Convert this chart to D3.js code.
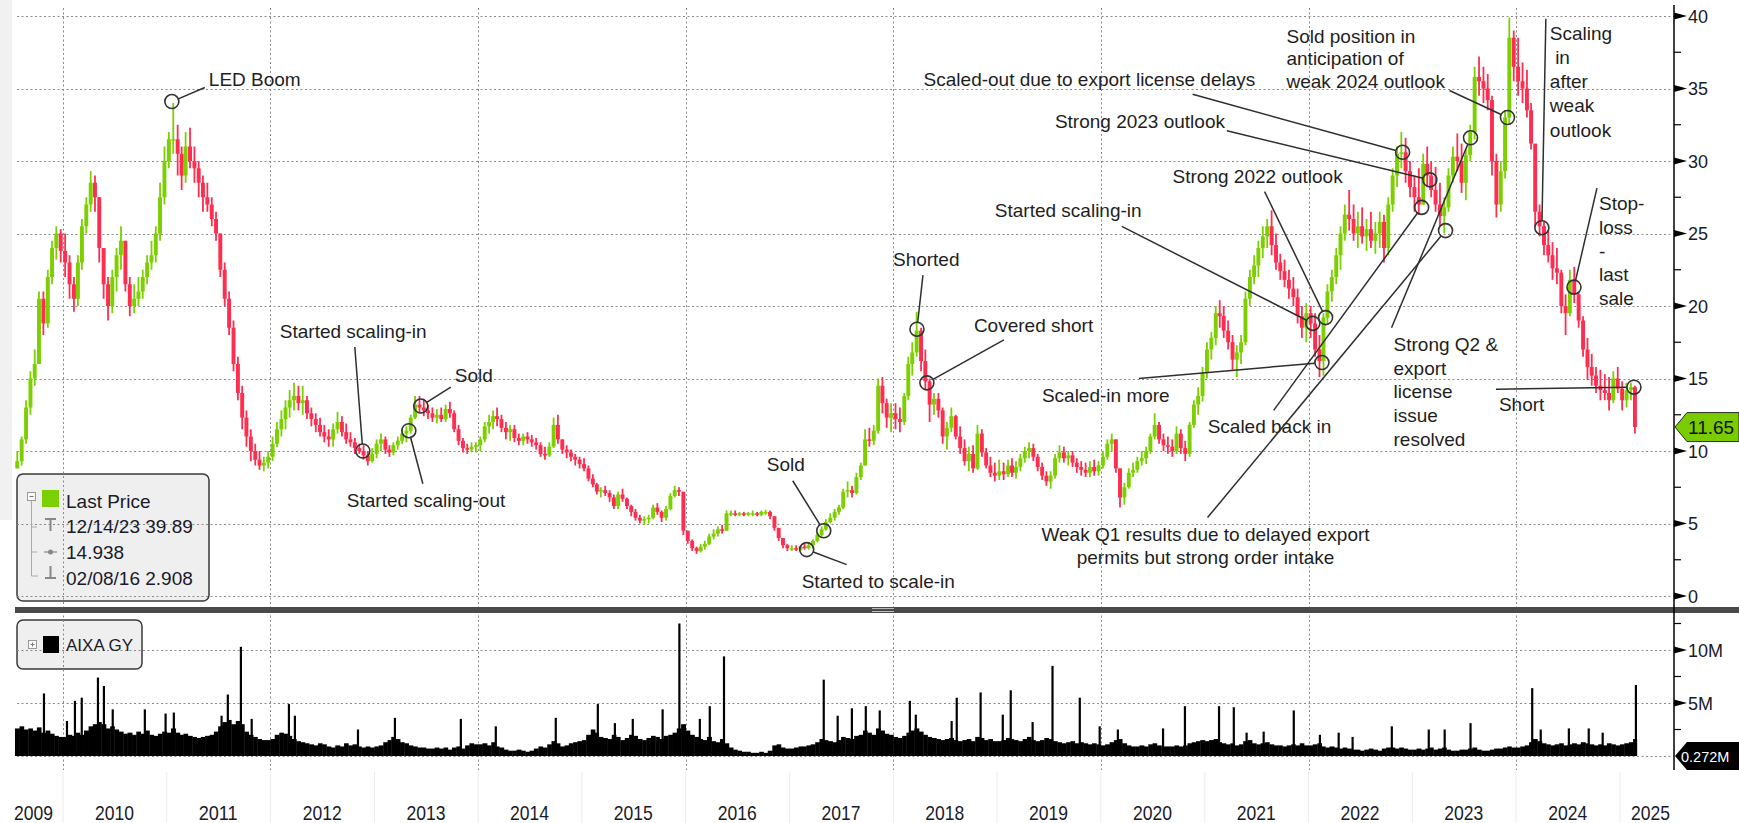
<!DOCTYPE html>
<html>
<head>
<meta charset="utf-8">
<script src="https://cdn.jsdelivr.net/npm/d3@7"></script>
<style>body{margin:0;background:#fff}svg{display:block}</style>
</head>
<body>
<script>
// half-month candles [high, low, close]; 2009 starts with 2nd half of July
const p2009 = [[10,8.8,9.3],[11,9,10.8],[13.5,10.5,13],[15.5,12.5,15],[17,14.5,16],[21,16,20.5],[21,18,18.8],[22.5,18.5,22],[24.5,21.5,24],[25.5,23.2,25],[25.3,23,23.8]];
const p2010 = [[25,22,23],[23.5,20.5,21.5],[22,19.6,20.5],[23.5,20,23],[26,22.5,25.5],[27.5,25,27],[29.3,26.5,28.5],[29,26.5,27.5],[27.5,23,24],[24,20.5,21.5],[22,19,20],[22.5,19.5,22],[24,21,23.5],[25.5,22.5,24.5],[24.5,21,21.5],[22,19.3,20],[21.5,19.5,20.5],[22,20,21],[22.5,20.5,22],[23.5,21.5,23],[24.5,22.5,23.5],[25.5,23,25],[28.5,24.5,27.5],[31,27,30]];
const p2011 = [[32,29.5,31.5],[34,30.5,31.5],[32.5,29,30.5],[31,28,29],[32,28.5,31],[32.3,29.5,30],[31,28.5,29.5],[30,27.5,28.5],[29,26.5,27.5],[28.5,26.5,27],[27.5,25.5,26],[26.5,24.5,25],[25,22,22.5],[23,20,20.5],[21,18,18.5],[19,15.5,16],[16.5,13.5,14],[14.5,11.5,12.3],[12.8,10.3,11],[11.5,9.3,10],[10.5,9,9.4],[10,8.7,9],[9.6,8.6,9.2],[10,8.8,9.6]];
const p2012 = [[11,9.3,10.5],[12,10.3,11.5],[12.8,11,12.2],[13.5,11.5,13],[14.2,12.3,13.5],[14.7,12.8,13.8],[14.5,12.8,13.3],[14.5,12.5,13.5],[13.8,12.2,12.6],[13,11.7,12.2],[12.6,11.3,11.8],[12.3,11,11.3],[11.8,10.6,11],[11.5,10.3,10.8],[11.9,10.3,11.5],[12.7,11.2,12],[12.4,11,11.3],[11.9,10.5,10.8],[11.3,10.3,10.6],[10.9,9.8,10.2],[10.5,9.8,10],[10.4,9.4,9.7],[10,9,9.3],[10.2,9.2,9.8]];
const p2013 = [[10.8,9.5,10.5],[11.2,10,10.8],[11,9.8,10.1],[10.4,9.6,9.9],[10.6,9.7,10.4],[11,10.1,10.7],[11.5,10.5,11.2],[11.7,10.6,11.4],[12.5,11.2,12.3],[13.8,12.2,13.2],[13.8,12.6,13],[13.6,12.4,12.8],[13.2,12.2,12.6],[13,12,12.3],[12.9,11.9,12.5],[13,12,12.2],[13.2,12,12.9],[13.4,12.3,12.6],[12.8,11.3,11.5],[11.8,10.4,10.7],[10.9,9.9,10.2],[10.5,9.8,10.1],[10.6,9.9,10.3],[10.6,9.9,10.4]];
const p2014 = [[11,10,10.8],[12,10.6,11.7],[12.5,11.2,12],[12.8,11.5,12.4],[13,11.7,12.2],[12.5,11.3,11.6],[12,10.8,11.3],[11.8,10.7,11.5],[11.8,10.6,10.9],[11.2,10.4,10.7],[11.2,10.4,11],[11.3,10.5,10.8],[11.1,10.3,10.6],[10.9,10.1,10.4],[10.6,9.6,9.8],[10.3,9.4,9.7],[10.6,9.6,10.3],[12.3,10.2,11.8],[12.5,10.5,10.8],[10.8,9.8,10.1],[10.4,9.5,9.9],[10.1,9.3,9.6],[9.8,9,9.4],[9.6,8.8,9.1]];
const p2015 = [[9.5,8.6,8.8],[9,7.9,8.1],[8.4,7.5,7.7],[7.8,7,7.2],[7.5,6.8,7.3],[7.6,6.9,7.1],[7.3,6.5,6.8],[7,6,6.2],[7.2,6,7],[7.4,6.5,6.7],[6.8,6,6.2],[6.3,5.5,5.8],[6,5.2,5.4],[5.6,5,5.2],[5.5,4.9,5.3],[5.6,5,5.4],[6.3,5.3,6.1],[6.4,5.6,5.8],[5.9,5.1,5.4],[6.2,5.2,6],[7.1,5.9,6.9],[7.6,6.8,7.3],[7.5,6.9,7.2],[4.9,4.2,4.5]];
const p2016 = [[4.5,3.6,3.8],[3.9,3.1,3.3],[3.4,2.908,3.1],[3.6,3,3.4],[3.8,3.2,3.6],[4.3,3.5,4.1],[4.6,3.9,4.3],[4.8,4.1,4.6],[4.9,4.3,4.5],[5.9,4.5,5.7],[5.9,5.5,5.7],[5.9,5.5,5.6],[5.8,5.5,5.7],[5.8,5.5,5.6],[5.8,5.5,5.7],[5.9,5.5,5.7],[5.8,5.5,5.6],[5.9,5.5,5.8],[5.95,5.6,5.8],[5.9,5.3,5.5],[5.5,4.5,4.7],[4.7,3.8,4],[4,3.3,3.5],[3.6,3.1,3.3]];
const p2017 = [[3.5,3.1,3.3],[3.5,3.1,3.2],[3.5,3.1,3.4],[3.6,3.2,3.3],[3.7,3.2,3.5],[3.9,3.3,3.8],[4.4,3.7,4.2],[4.8,4.1,4.6],[5.3,4.5,5.1],[5.7,5,5.4],[6,5.2,5.8],[6.3,5.6,6.1],[7.4,6,7.2],[7.9,6.8,7.3],[7.6,6.8,7.1],[8.5,7,8.2],[9.2,8,9],[11.5,9,10.8],[11.6,10.3,10.7],[11.8,10.4,11.4],[15,11.2,14.5],[15.1,12.6,13.3],[13.6,11.6,12.3],[13.3,11.3,12.6]];
const p2018 = [[13.3,11.5,12.2],[13,11.3,12],[14,11.8,13.8],[16.5,13.5,16],[17.5,15.2,16.8],[19.6,16.5,18.3],[18.5,15.5,16.2],[17,14.2,14.8],[15,12,13.2],[14,12.5,13.6],[14,12.3,12.8],[13,10.5,11],[12,10.1,11.6],[13,11.3,12.4],[12.5,10.8,11],[11.7,9.8,10.2],[10.8,9,9.3],[10.3,8.6,9.8],[10.4,8.5,8.8],[11.8,8.7,11.2],[11.5,9.6,9.9],[10.2,8.8,9],[9.6,8.2,8.5],[9.2,7.9,8.3]];
const p2019 = [[9.4,8,8.6],[9.2,8,8.4],[9.4,8.2,9],[9.5,8.2,8.5],[9.3,8.1,8.9],[9.8,8.6,9.5],[10.3,9.2,10],[10.6,9.5,10.2],[10.5,9.3,9.6],[9.8,8.6,8.9],[9.2,8,8.3],[8.6,7.6,7.9],[8.6,7.4,8.3],[9.8,8.1,9.5],[10.4,9.2,9.9],[10.3,9.2,9.5],[10,9,9.7],[10,8.9,9.2],[9.5,8.5,8.9],[9.3,8.3,8.7],[9.2,8.2,8.5],[9.3,8.2,8.9],[9.4,8.3,8.6],[9.3,8.3,9]];
const p2020 = [[10,8.8,9.6],[10.8,9.4,10.5],[11.2,10,10.8],[10.8,8.5,8.8],[8.8,6.1,6.8],[7.8,6.3,7.5],[8.8,7.4,8.5],[9.2,8.2,8.7],[9.6,8.5,9.3],[10,9,9.5],[10.3,9.1,10],[11.2,9.8,11],[12.6,10.8,11.8],[12,10.5,10.8],[11.2,10,10.4],[11,9.8,10.3],[10.8,9.6,10],[11.7,9.8,11.2],[11.5,9.8,10.2],[10.7,9.3,9.8],[12,9.6,11.8],[13.5,11.6,13.2],[14.4,12.5,13.8],[15.8,13.4,15.4]];
const p2021 = [[17.5,15,17],[18.2,16.3,17.8],[20,17.3,19.5],[20.4,18.5,19.3],[20,17.8,18.3],[19,17,17.5],[18,15.6,16.3],[17.3,15.1,16.8],[18,16,17.5],[21,17.3,20.5],[22.5,20,22],[23.5,21.5,22.8],[24.5,22,24],[25.5,23.3,24.8],[26,24,25.5],[26.6,23.5,24.2],[25,22.5,23],[23.6,21.8,22.4],[23.2,21.3,21.8],[22.5,20.5,21.2],[22,20,20.6],[21.2,18.8,19.3],[20,17.8,18.5],[20.2,17.5,19.5]];
const p2022 = [[20,17.8,18.8],[19.5,16.5,17],[18,15.1,16.2],[19.5,15.2,19.2],[21.5,18.8,21],[22.5,20.3,22],[24,21.5,23.5],[25.5,22.5,25],[27,24.5,26.3],[28,25.2,26],[27,24.5,25],[26.5,24,25.5],[26.8,24.3,24.8],[26,23.8,25.3],[26.5,24,24.5],[25.8,23.6,25],[26.5,24,25.8],[26.3,23,24],[27.5,23.5,27],[29.5,26.5,29],[31,28.2,30.5],[32,29.5,30.6],[31.6,28.5,29.3],[30,27.5,28.2]];
const p2023 = [[29,26.5,27.5],[29.5,26.3,27],[30.5,27,29.8],[31,28.2,29],[30,27.5,28],[29.6,26.5,27],[28.5,25.5,26.2],[27.5,25,26.8],[29.5,26.5,29],[31,28.5,30.3],[31.9,29.3,30],[31.2,27.8,28.5],[30.8,27.3,30.4],[32.5,30,32],[36.5,31.5,35.8],[37.2,34.5,35.5],[36.5,34,35],[36,33.5,34.2],[34.5,29,30],[30.5,26.1,27],[30,26.5,29.3],[33.5,28.8,33],[39.89,32.5,38.5],[39,35.5,36.5]];
const p2024 = [[38.5,34.5,35.5],[36.8,34,35],[36.3,33,33.5],[34,30.8,31.2],[28.9,25.5,26.5],[27,24.8,25.5],[25.8,23.5,24.2],[25.2,23,23.5],[24.4,21.8,22.6],[24,21.5,22.3],[22.5,19.5,20],[20.8,18,19.5],[22.5,19.3,21.8],[22.7,20.2,20.8],[21,18.5,19],[19.3,16.5,17],[17.8,14.9,15.8],[16.7,14.5,15.2],[15.8,14,14.5],[15.6,13.5,14.2],[15.3,13.5,14],[15.1,12.8,13.5],[15.5,13.3,15],[15.8,14,14.3]];
const p2025 = [[14.8,12.8,13.5],[14.7,13,14.2],[14.7,13.5,14.4],[14.5,11.2,11.65]];

// typical daily volume in each half-month, millions of shares
const v2009 = [2.6,2.8,2.5,2.6,2.4,2.7,2.2,2.4,2.1,1.9,1.8];
const v2010 = [1.8,2.0,1.9,2.2,2.0,2.4,2.8,3.0,3.2,3.0,2.6,2.8,2.5,2.3,2.1,2.2,2.0,2.3,2.1,2.4,2.0,1.9,2.1,2.3];
const v2011 = [2.2,2.6,2.2,2.0,2.1,1.9,1.8,1.7,1.8,1.9,2.0,2.3,2.8,3.2,3.4,3.0,3.3,3.0,2.3,2.0,1.8,1.6,1.5,1.5];
const v2012 = [1.6,2.0,2.2,2.1,1.9,1.6,1.4,1.3,1.2,1.1,1.0,1.2,1.1,0.9,0.8,1.0,0.9,1.2,1.0,1.1,0.9,0.8,0.9,0.8];
const v2013 = [0.9,1.0,1.3,1.5,1.8,1.6,1.3,1.2,1.0,0.9,0.8,0.8,0.7,0.7,0.8,0.7,0.8,0.6,0.8,0.9,0.7,1.0,1.2,1.1];
const v2014 = [1.1,1.2,1.0,1.3,0.9,0.8,0.6,0.5,0.5,0.6,0.5,0.4,0.5,0.7,0.9,0.8,1.1,1.4,1.2,0.9,1.0,1.2,1.3,1.4];
const v2015 = [1.5,2.0,2.5,2.2,1.8,1.7,1.6,2.0,1.8,1.5,1.7,2.0,1.9,1.6,1.5,1.7,1.9,1.8,1.6,1.9,2.0,2.2,2.6,3.0];
const v2016 = [2.4,2.0,1.8,1.6,1.5,1.8,1.4,1.3,1.6,1.2,0.8,0.6,0.5,0.4,0.4,0.3,0.3,0.4,0.3,0.5,1.0,1.1,0.8,0.7];
const v2017 = [0.7,0.8,0.9,0.9,1.0,1.1,1.3,1.6,1.5,1.4,1.3,1.5,1.8,1.7,1.6,1.9,2.0,2.4,2.2,2.0,2.6,2.4,2.1,2.0];
const v2018 = [1.8,1.7,1.9,2.2,2.4,2.6,2.3,2.0,1.8,1.7,1.6,1.5,1.6,1.7,1.5,1.4,1.5,1.6,1.4,1.8,1.7,1.5,1.6,1.4];
const v2019 = [1.4,1.5,1.7,1.6,1.5,1.4,1.6,1.8,1.5,1.4,1.5,1.7,1.6,1.4,1.3,1.2,1.3,1.4,1.2,1.3,1.2,1.1,1.2,1.1];
const v2020 = [1.0,1.1,1.3,1.5,1.6,1.2,1.0,0.9,0.9,1.0,0.9,1.1,1.2,1.0,0.9,0.9,0.9,1.0,0.9,1.0,1.2,1.3,1.4,1.5];
const v2021 = [1.4,1.5,1.6,1.3,1.2,1.1,1.2,1.0,1.1,1.4,1.5,1.2,1.1,1.2,1.3,1.1,1.0,1.0,0.9,1.0,1.1,1.0,1.2,1.0];
const v2022 = [1.0,1.1,1.2,0.9,0.8,0.9,0.8,0.7,0.8,0.7,0.6,0.6,0.5,0.6,0.7,0.6,0.5,0.7,0.8,0.8,0.7,0.8,0.7,0.6];
const v2023 = [0.6,0.7,0.6,0.7,0.8,0.6,0.7,0.8,0.6,0.5,0.5,0.6,0.6,0.7,0.8,0.6,0.5,0.5,0.6,0.7,0.7,0.8,0.9,0.8];
const v2024 = [0.8,0.9,1.0,1.3,1.6,1.4,1.2,1.1,1.0,1.1,1.2,1.0,1.1,1.2,1.1,1.3,1.2,1.1,1.0,1.1,1.0,1.2,1.1,1.0];
const v2025 = [1.1,1.2,1.3,1.6];

// single-day volume spikes [date, millions]
const volSpikes = [
  ["2009-10-26",5.9],["2010-01-15",3.3],["2010-02-12",5.2],["2010-03-08",5.5],["2010-05-04",7.4],["2010-05-25",6.6],
  ["2010-06-25",4.4],["2010-10-16",4.4],["2010-12-28",4.0],["2011-01-26",4.1],["2011-07-13",3.8],["2011-08-04",5.8],
  ["2011-09-19",10.3],["2011-10-27",3.5],["2012-03-06",4.9],["2012-03-27",3.8],["2012-11-04",2.5],["2013-03-14",3.6],
  ["2013-11-01",3.5],["2014-03-04",2.8],["2014-10-01",3.6],["2015-02-26",4.9],["2015-04-27",3.1],["2015-06-29",3.5],
  ["2015-10-12",4.4],["2015-12-10",12.5],["2016-02-20",3.5],["2016-03-26",4.7],["2016-05-15",9.4],["2017-05-01",7.2],
  ["2017-06-19",3.8],["2017-08-08",4.5],["2017-09-26",4.7],["2017-11-14",4.3],["2018-02-28",5.2],["2018-03-21",3.9],
  ["2018-07-25",3.3],["2018-08-12",5.5],["2018-11-04",6.0],["2019-01-21",3.9],["2019-02-18",6.2],["2019-05-06",3.2],
  ["2019-07-15",8.5],["2019-10-19",5.5],["2019-12-28",2.8],["2020-03-01",2.5],["2020-08-07",2.6],["2020-10-23",4.7],
  ["2021-02-20",4.7],["2021-04-13",4.6],["2021-05-28",2.2],["2021-07-27",2.3],["2021-11-10",4.3],["2022-02-10",2.0],
  ["2022-04-17",2.2],["2022-06-05",1.8],["2022-10-21",2.8],["2023-02-28",2.5],["2023-04-25",2.5],["2023-07-25",3.1],
  ["2024-02-27",6.4],["2024-03-28",2.5],["2024-07-05",2.6],["2024-09-13",2.6],["2024-11-01",2.2],["2025-02-26",6.7]
];

const priceTicks = [0, 5, 10, 15, 20, 25, 30, 35, 40];
const volTicks = [5, 10];
const volTickLabels = ["5M", "10M"];
const yearLabels = d3.range(2009, 2026);
const legendRows = ["12/14/23 39.89", "14.938", "02/08/16 2.908"];

const notes = [
  {lines: ["LED Boom"], date: "2011-01-19", price: 34.1},
  {lines: ["Started scaling-in"], date: "2012-11-21", price: 10.0},
  {lines: ["Sold"], date: "2013-06-13", price: 13.1},
  {lines: ["Started scaling-out"], date: "2013-05-02", price: 11.4},
  {lines: ["Sold"], date: "2017-05-01", price: 4.5},
  {lines: ["Started to scale-in"], date: "2017-03-02", price: 3.2},
  {lines: ["Shorted"], date: "2018-03-25", price: 18.4},
  {lines: ["Covered short"], date: "2018-04-29", price: 14.7},
  {lines: ["Scaled-in more"], date: "2022-02-17", price: 16.1},
  {lines: ["Started scaling-in"], date: "2022-01-16", price: 18.8},
  {lines: ["Strong 2022 outlook"], date: "2022-03-02", price: 19.2},
  {lines: ["Scaled back in"], date: "2023-02-03", price: 26.8},
  {lines: ["Weak Q1 results due to delayed export", "permits but strong order intake"], date: "2023-04-28", price: 25.2},
  {lines: ["Strong Q2 &", "export", "license", "issue", "resolved"], date: "2023-07-25", price: 31.6},
  {lines: ["Strong 2023 outlook"], date: "2023-03-04", price: 28.7},
  {lines: ["Scaled-out due to export license delays"], date: "2022-11-28", price: 30.6},
  {lines: ["Sold position in", "anticipation of", "weak 2024 outlook"], date: "2023-12-02", price: 33.0},
  {lines: ["Scaling", " in", "after", "weak", "outlook"], date: "2024-04-01", price: 25.4},
  {lines: ["Stop-", "loss", "-", "last", "sale"], date: "2024-07-23", price: 21.3},
  {lines: ["Short"], date: "2025-02-19", price: 14.4}
];
// label anchor (tx,ty) and leader end (lx,ly) in px from the circle
const noteLayout = [
  {tx: 37, ty: -16, lx: 33, ly: -14},
  {tx: -83, ty: -113, lx: -8, ly: -104},
  {tx: 34, ty: -24, lx: 30, ly: -19},
  {tx: -62, ty: 76, lx: 14, ly: 53},
  {tx: -57, ty: -60, lx: -31, ly: -50},
  {tx: -5, ty: 38, lx: 40, ly: 15},
  {tx: -24, ty: -63, lx: 6, ly: -54},
  {tx: 47, ty: -51, lx: 77, ly: -43},
  {tx: -280, ty: 39, lx: -183, ly: 16},
  {tx: -318, ty: -106, lx: -191, ly: -97},
  {tx: -153, ty: -135, lx: -61, ly: -126},
  {tx: -214, ty: 226, lx: -148, ly: 203},
  {tx: -240, ty: 310, lx: -238, ly: 287, anchor: "middle", lh: 23},
  {tx: -77, ty: 213, lx: -79, ly: 190},
  {tx: -375, ty: -52, lx: -203, ly: -49},
  {tx: -479, ty: -66, lx: -210, ly: -58},
  {tx: -221, ty: -75, lx: -58, ly: -27, lh: 22.5},
  {tx: 8, ty: -188, lx: 4, ly: -209, lh: 24.2},
  {tx: 25, ty: -77, lx: 23, ly: -99},
  {tx: -135, ty: 24, lx: -138, ly: 2}
];

const width = 1739, height = 823;
const axisX = 1674, plotL = 17;
const upColor = "#7ccf00", downColor = "#ff2d4f";
const font = "'Liberation Sans', Arial, sans-serif";

const priceYears = [[2009, p2009, v2009], [2010, p2010, v2010], [2011, p2011, v2011], [2012, p2012, v2012],
  [2013, p2013, v2013], [2014, p2014, v2014], [2015, p2015, v2015], [2016, p2016, v2016], [2017, p2017, v2017],
  [2018, p2018, v2018], [2019, p2019, v2019], [2020, p2020, v2020], [2021, p2021, v2021], [2022, p2022, v2022],
  [2023, p2023, v2023], [2024, p2024, v2024], [2025, p2025, v2025]];
const firstSlot = {2009: 13};

// turn the yearly lists into candles
const bars = [];
let prevClose = null;
priceYears.forEach(([yr, arr, vol]) => {
  const off = firstSlot[yr] || 0;
  arr.forEach((d, i) => {
    const k = i + off, m = Math.floor(k / 2);
    const t0 = new Date(yr, m, k % 2 ? 16 : 1);
    const t1 = k % 2 ? new Date(yr, m + 1, 1) : new Date(yr, m, 16);
    const open = prevClose == null ? d[1] : prevClose;
    bars.push({t0, t1, high: d[0], low: d[1], close: d[2], open, vol: vol[i] || 0});
    prevClose = d[2];
  });
});

const svg = d3.select("body").append("svg")
  .attr("width", width).attr("height", height)
  .style("font-family", font);

const x = d3.scaleTime().domain([new Date(2010, 0, 1), new Date(2024, 0, 1)]).range([63, 1516]);
const yP = d3.scaleLinear().domain([0, 40]).range([596, 16]);
const yV = d3.scaleLinear().domain([0, 10]).range([756, 650]);

// background bits
svg.append("rect").attr("width", width).attr("height", height).attr("fill", "#fff");
svg.append("rect").attr("x", 0).attr("y", 0).attr("width", 12).attr("height", 520).attr("fill", "#f1f1f1");

// legend boxes (grid shows through them)
svg.append("rect").attr("x", 17).attr("y", 474).attr("width", 192).attr("height", 127).attr("rx", 6)
  .attr("fill", "#efefef").attr("stroke", "#3a3a3a").attr("stroke-width", 1.5);
svg.append("rect").attr("x", 17).attr("y", 620).attr("width", 125).attr("height", 49).attr("rx", 6)
  .attr("fill", "#efefef").attr("stroke", "#3a3a3a").attr("stroke-width", 1.5);

// faint year separators under the volume panel
svg.append("g").selectAll("line").data(d3.range(2009, 2026).map(y => new Date(y, 0, 1)))
  .join("line")
  .attr("x1", d => x(d)).attr("x2", d => x(d)).attr("y1", 772).attr("y2", height)
  .attr("stroke", "#ececec");

// grid
const grid = svg.append("g").attr("stroke", "#8a8a8a").attr("stroke-width", 1).attr("stroke-dasharray", "2,2.5");
grid.selectAll("line.hp").data(priceTicks).join("line").attr("class", "hp")
  .attr("x1", plotL).attr("x2", axisX)
  .attr("y1", d => Math.round(yP(d)) + 0.5).attr("y2", d => Math.round(yP(d)) + 0.5);
grid.selectAll("line.hv").data([0, 5, 10]).join("line").attr("class", "hv")
  .attr("x1", plotL).attr("x2", axisX)
  .attr("y1", d => Math.round(yV(d)) + 0.5).attr("y2", d => Math.round(yV(d)) + 0.5);
grid.selectAll("line.vg").data(d3.timeYear.every(2).range(new Date(2010, 0, 1), new Date(2025, 0, 1)))
  .join("line").attr("class", "vg")
  .attr("x1", d => Math.round(x(d)) + 0.5).attr("x2", d => Math.round(x(d)) + 0.5)
  .attr("y1", 8).attr("y2", 770);

// volume
const vg = svg.append("g");
vg.selectAll("rect").data(bars).join("rect")
  .attr("x", d => x(d.t0)).attr("width", d => x(d.t1) - x(d.t0) + 0.4)
  .attr("y", d => yV(d.vol)).attr("height", d => yV(0) - yV(d.vol))
  .attr("fill", "#000");
vg.selectAll("line").data(volSpikes).join("line")
  .attr("x1", d => x(new Date(d[0]))).attr("x2", d => x(new Date(d[0])))
  .attr("y1", yV(0)).attr("y2", d => yV(d[1]))
  .attr("stroke", "#000").attr("stroke-width", 2.2);

// candles
const cg = svg.append("g");
const bodyW = (x(new Date(2010, 0, 16)) - x(new Date(2010, 0, 1))) * 0.92;
const cx = d => (x(d.t0) + x(d.t1)) / 2;
const col = d => d.close >= d.open ? upColor : downColor;
cg.selectAll("line").data(bars).join("line")
  .attr("x1", cx).attr("x2", cx)
  .attr("y1", d => yP(d.high)).attr("y2", d => yP(d.low))
  .attr("stroke", col).attr("stroke-width", 1.8);
cg.selectAll("rect").data(bars).join("rect")
  .attr("x", d => cx(d) - bodyW / 2).attr("width", bodyW)
  .attr("y", d => yP(Math.max(d.open, d.close)))
  .attr("height", d => Math.max(1.5, Math.abs(yP(d.open) - yP(d.close))))
  .attr("fill", col);

// panel separator
svg.append("rect").attr("x", 15).attr("y", 607).attr("width", width - 15).attr("height", 6).attr("fill", "#4a4a4a");
svg.append("line").attr("x1", 872).attr("x2", 894).attr("y1", 608.5).attr("y2", 608.5).attr("stroke", "#bbb");
svg.append("line").attr("x1", 872).attr("x2", 894).attr("y1", 611.5).attr("y2", 611.5).attr("stroke", "#bbb");

// annotations
const ag = svg.append("g");
notes.forEach((n, i) => {
  const L = noteLayout[i];
  const px = x(new Date(n.date)), py = yP(n.price);
  const ex = px + L.lx, ey = py + L.ly;
  const a = Math.atan2(ey - py, ex - px), r = 7;
  ag.append("line")
    .attr("x1", px + r * Math.cos(a)).attr("y1", py + r * Math.sin(a))
    .attr("x2", ex).attr("y2", ey)
    .attr("stroke", "#2e2e2e").attr("stroke-width", 1.5);
  ag.append("circle").attr("cx", px).attr("cy", py).attr("r", r)
    .attr("fill", "none").attr("stroke", "#333").attr("stroke-width", 1.6);
  const lh = L.lh || 23.7;
  const t = ag.append("text")
    .attr("x", px + L.tx).attr("y", py + L.ty)
    .attr("text-anchor", L.anchor || "start")
    .style("white-space", "pre")
    .attr("font-size", 19).attr("fill", "#1e1e1e");
  n.lines.forEach((s, j) => {
    t.append("tspan").attr("x", px + L.tx).attr("y", py + L.ty + j * lh).text(s);
  });
});

// right axis
const axg = svg.append("g");
axg.append("line").attr("x1", axisX).attr("x2", axisX).attr("y1", 5).attr("y2", 770)
  .attr("stroke", "#000").attr("stroke-width", 1.5);
const tri = y => `M${axisX},${y - 3.5}L${axisX + 13},${y}L${axisX},${y + 3.5}Z`;
axg.selectAll("path.pt").data(priceTicks).join("path").attr("class", "pt")
  .attr("d", d => tri(yP(d))).attr("fill", "#000");
axg.selectAll("text.pt").data(priceTicks).join("text").attr("class", "pt")
  .attr("x", axisX + 14).attr("y", d => yP(d) + 6.5)
  .attr("font-size", 18).attr("fill", "#1a1a2a").text(d => d);
axg.selectAll("line.pm").data(d3.range(2.5, 40, 5)).join("line").attr("class", "pm")
  .attr("x1", axisX).attr("x2", axisX + 7).attr("y1", d => yP(d)).attr("y2", d => yP(d))
  .attr("stroke", "#000").attr("stroke-width", 1.2);
axg.selectAll("path.vt").data(volTicks).join("path").attr("class", "vt")
  .attr("d", d => tri(yV(d))).attr("fill", "#000");
axg.selectAll("text.vt").data(volTicks).join("text").attr("class", "vt")
  .attr("x", axisX + 14).attr("y", d => yV(d) + 6.5)
  .attr("font-size", 18).attr("fill", "#1a1a2a").text((d, i) => volTickLabels[i]);
axg.selectAll("line.vm").data([2.5, 7.5, 12.5]).join("line").attr("class", "vm")
  .attr("x1", axisX).attr("x2", axisX + 7).attr("y1", d => yV(d)).attr("y2", d => yV(d))
  .attr("stroke", "#000").attr("stroke-width", 1.2);

// last price tag
const last = bars[bars.length - 1];
const ly = yP(last.close);
axg.append("path")
  .attr("d", `M${axisX + 1},${ly}L${axisX + 13},${ly - 14.5}L${width},${ly - 14.5}L${width},${ly + 14.5}L${axisX + 13},${ly + 14.5}Z`)
  .attr("fill", "#7acc00").attr("stroke", "#2a2a2a").attr("stroke-width", 1);
axg.append("text").attr("x", axisX + 14).attr("y", ly + 7).attr("font-size", 19).attr("fill", "#111")
  .text(d3.format(".2f")(last.close));

// last volume tag
const lastVol = 0.272;
const lv = yV(0);
axg.append("path")
  .attr("d", `M${axisX + 1},${lv}L${axisX + 13},${lv - 14}L${width},${lv - 14}L${width},${lv + 14}L${axisX + 13},${lv + 14}Z`)
  .attr("fill", "#000");
axg.append("text").attr("x", axisX + 7).attr("y", lv + 5.5).attr("font-size", 14.5).attr("fill", "#fff")
  .text(lastVol + "M");

// year labels
svg.append("g").selectAll("text").data(yearLabels).join("text")
  .attr("x", d => Math.max(14 + 19.5, Math.min(1670 - 19.5, x(new Date(d, 6, 1)))))
  .attr("y", 820).attr("text-anchor", "middle")
  .attr("font-size", 21).attr("textLength", 39).attr("lengthAdjust", "spacingAndGlyphs")
  .attr("fill", "#1a1a2a").text(d => d);

// legend contents
const lg = svg.append("g");
function treeBox(gx, gy, minus) {
  lg.append("rect").attr("x", gx).attr("y", gy).attr("width", 8).attr("height", 8)
    .attr("fill", "#fafafa").attr("stroke", "#999");
  lg.append("line").attr("x1", gx + 2).attr("x2", gx + 6).attr("y1", gy + 4).attr("y2", gy + 4).attr("stroke", "#777");
  if (!minus) lg.append("line").attr("x1", gx + 4).attr("x2", gx + 4).attr("y1", gy + 2).attr("y2", gy + 6).attr("stroke", "#777");
}
treeBox(27.5, 492.5, true);
lg.append("rect").attr("x", 42).attr("y", 490).attr("width", 17).attr("height", 17).attr("fill", upColor);
lg.append("text").attr("x", 66).attr("y", 508).attr("font-size", 19).attr("fill", "#1a1a2a").text("Last Price");
lg.append("path").attr("d", "M31.5,501V576H38").attr("fill", "none").attr("stroke", "#aaa");
lg.append("path").attr("d", "M31.5,527H37 M31.5,552H37").attr("stroke", "#aaa");
lg.append("path").attr("d", "M45,519H56 M50.5,519V531").attr("stroke", "#888").attr("stroke-width", 2);
lg.append("path").attr("d", "M44,552H57").attr("stroke", "#888").attr("stroke-width", 1.2);
lg.append("circle").attr("cx", 50.5).attr("cy", 552).attr("r", 2.5).attr("fill", "#888");
lg.append("path").attr("d", "M50.5,566V578 M45,578H56").attr("stroke", "#888").attr("stroke-width", 2);
lg.selectAll("text.row").data(legendRows).join("text").attr("class", "row")
  .attr("x", 66).attr("y", (d, i) => 533 + i * 26).attr("font-size", 19).attr("fill", "#1a1a2a").text(d => d);
treeBox(28.5, 640.5, false);
lg.append("rect").attr("x", 43).attr("y", 636).attr("width", 16).attr("height", 17).attr("fill", "#000");
lg.append("text").attr("x", 66).attr("y", 651).attr("font-size", 17).attr("fill", "#1a1a2a").text("AIXA GY");
</script>
</body>
</html>
